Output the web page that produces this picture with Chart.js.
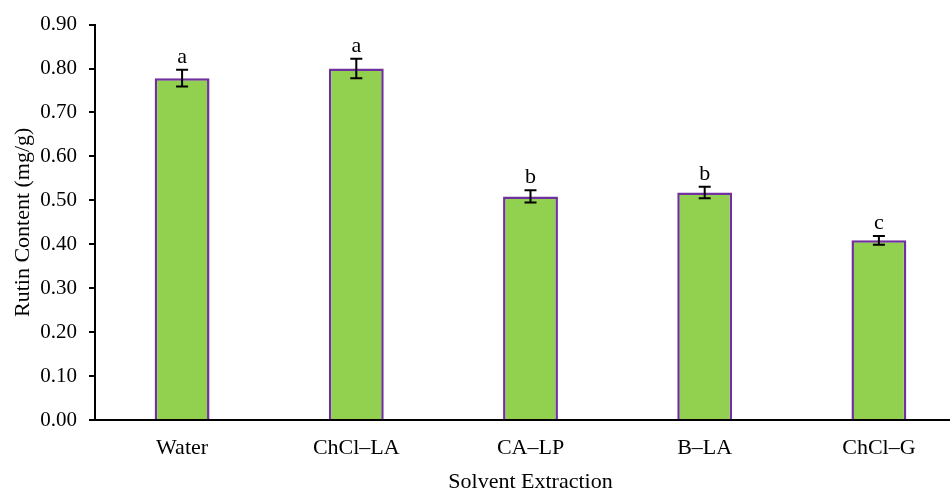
<!DOCTYPE html>
<html>
<head>
<meta charset="utf-8">
<script src="https://cdn.jsdelivr.net/npm/chart.js@4"></script>
<style>
  html, body { margin: 0; padding: 0; background: #fff; overflow: hidden; }
  #wrap { width: 966px; height: 488px; }
</style>
</head>
<body>
<div id="wrap"><canvas id="myChart" width="966" height="488"></canvas></div>
<script>
// categories and values
var solvents = ["Water", "ChCl\u2013LA", "CA\u2013LP", "B\u2013LA", "ChCl\u2013G"];
var rutin = [0.778, 0.800, 0.509, 0.518, 0.409];
var sd = [0.019, 0.022, 0.014, 0.013, 0.010];
var letters = ["a", "a", "b", "b", "c"];
var yTicks = [0, 0.1, 0.2, 0.3, 0.4, 0.5, 0.6, 0.7, 0.8, 0.9];

var serif = "'Liberation Serif', 'Times New Roman', serif";

/* error bars + significance letters */
var errorBars = {
  id: "errorBars",
  afterDatasetsDraw: function (chart) {
    var ctx = chart.ctx;
    var xs = chart.scales.x, ys = chart.scales.y;
    ctx.save();
    ctx.strokeStyle = "#000";
    ctx.lineWidth = 2;
    ctx.fillStyle = "#000";
    ctx.font = "22px " + serif;
    ctx.textAlign = "center";
    ctx.textBaseline = "alphabetic";
    rutin.forEach(function (v, i) {
      var x = xs.getPixelForValue(i);
      var top = ys.getPixelForValue(v + sd[i]);
      var bot = ys.getPixelForValue(v - sd[i]);
      ctx.beginPath();
      ctx.moveTo(x, top); ctx.lineTo(x, bot);
      ctx.moveTo(x - 6, top); ctx.lineTo(x + 6, top);
      ctx.moveTo(x - 6, bot); ctx.lineTo(x + 6, bot);
      ctx.stroke();
      ctx.fillText(letters[i], x, top - 7);
    });
    ctx.restore();
  }
};

var chart = new Chart(document.getElementById("myChart"), {
  type: "bar",
  data: {
    labels: solvents,
    datasets: [{
      label: "Rutin",
      data: rutin,
      backgroundColor: "#92D050",
      borderColor: "#7030A0",
      borderWidth: 2.5,
      borderSkipped: "bottom",
      categoryPercentage: 1,
      barPercentage: 0.315
    }]
  },
  options: {
    responsive: false,
    animation: false,
    layout: { padding: { top: 24, right: 0, left: 0, bottom: 0 } },
    plugins: { legend: { display: false }, tooltip: { enabled: false } },
    scales: {
      x: {
        grid: { display: false, drawTicks: false },
        border: { color: "#000", width: 2 },
        ticks: { color: "#000", font: { family: serif, size: 22 }, padding: 15 },
        title: { display: true, text: "Solvent Extraction", color: "#000", font: { family: serif, size: 22 }, padding: { top: 2, bottom: -7 } },
        afterFit: function (s) { s.height = 68; }
      },
      y: {
        min: 0, max: 0.9,
        afterBuildTicks: function (s) { s.ticks = yTicks.map(function (v) { return { value: v }; }); },
        grid: { drawOnChartArea: false, drawTicks: true, tickLength: 6, color: "#000", lineWidth: 2 },
        border: { color: "#000", width: 2 },
        ticks: {
          color: "#000", font: { family: serif, size: 21 }, padding: 12,
          callback: function (v) { return Number(v).toFixed(2); }
        },
        title: { display: true, text: "Rutin Content (mg/g)", color: "#000", font: { family: serif, size: 22 }, padding: { top: 10, bottom: 0 } },
        afterFit: function (s) { s.width = 95; }
      }
    }
  },
  plugins: [errorBars]
});
</script>
</body>
</html>
